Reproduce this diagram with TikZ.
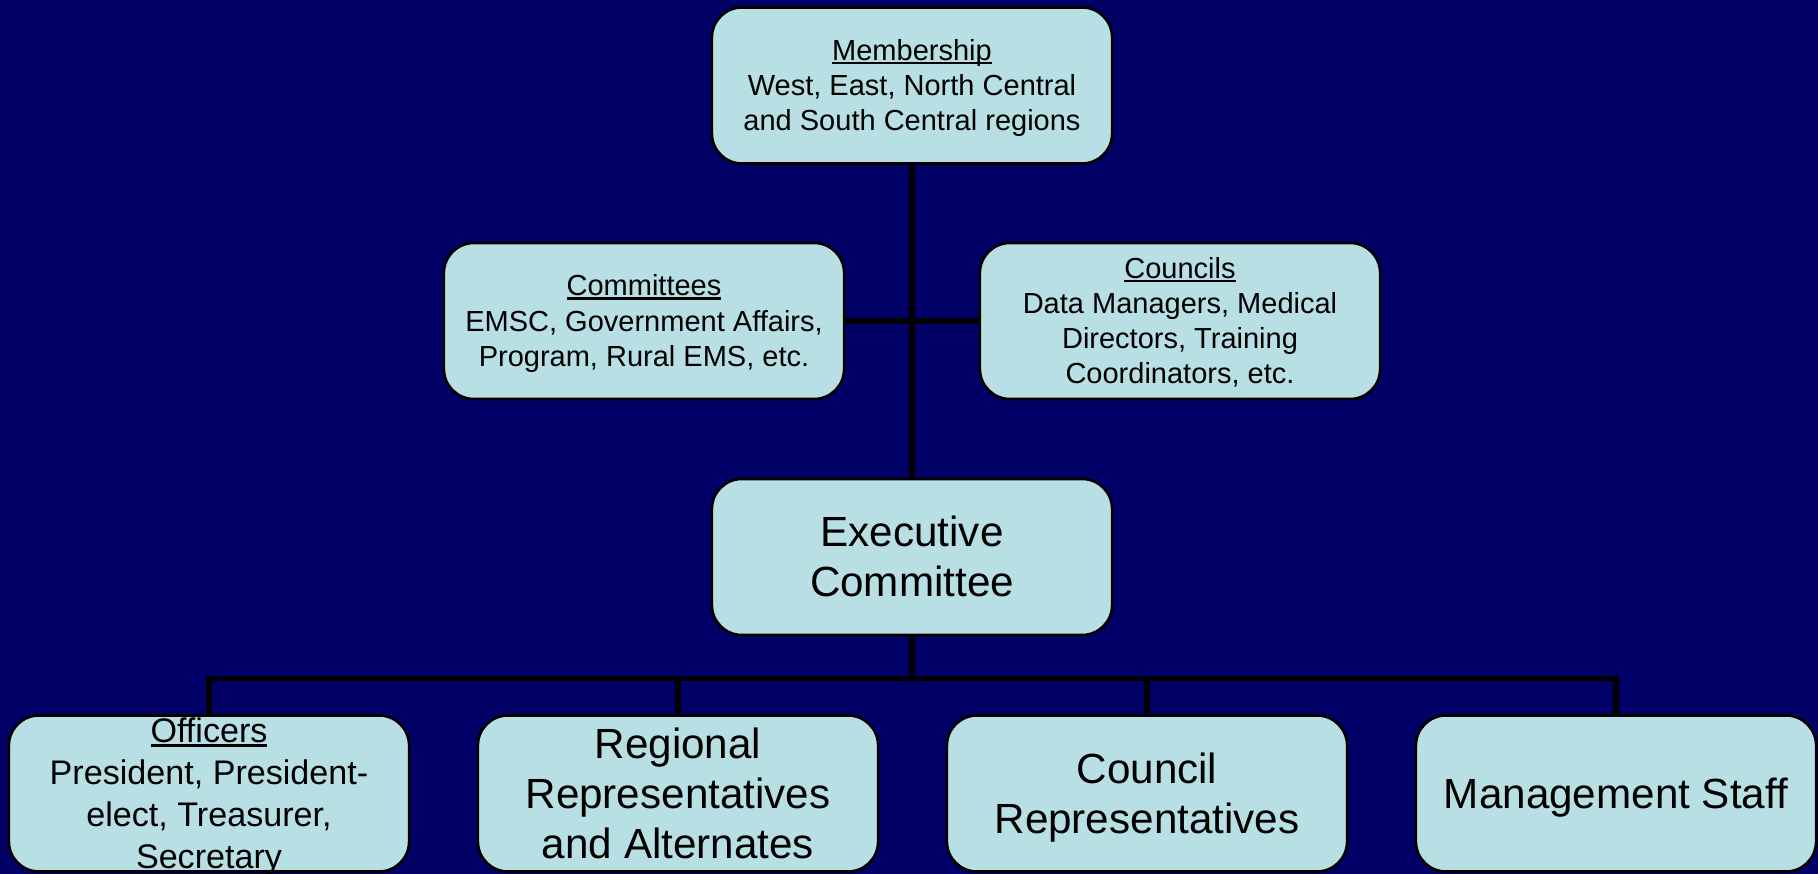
\documentclass[tikz,border=0pt]{standalone}
\usepackage{fontspec}
\setmainfont{Liberation Sans}

\definecolor{bgnavy}{RGB}{0,0,102}
\definecolor{boxcyan}{RGB}{184,224,228}

% heading with a thin underline just below the baseline
\newcommand{\headul}[1]{\setbox0\hbox{#1}\rlap{\rule[-0.13em]{\wd0}{0.08em}}\box0}
% line ascent/descent struts
\newcommand{\asc}{\rule{0pt}{0.905em}}
\newcommand{\dsc}{\rule[-0.212em]{0pt}{0pt}}

\tikzset{
  orgbox/.style={draw=black, line width=0.75pt, fill=boxcyan, rounded corners=0.3cm,
    minimum width=4cm, minimum height=1.56cm, inner xsep=2pt, inner ysep=0pt,
    align=center, text=black},
  smalltxt/.style={font=\fontsize{8.25}{10}\selectfont},
  midtxt/.style={font=\fontsize{9.7}{11.9}\selectfont, inner ysep=-2pt},
  bigtxt/.style={font=\fontsize{12}{14.2}\selectfont},
  link/.style={line width=1.6pt, draw=black}
}

\begin{document}
\begin{tikzpicture}[x=0.01cm, y=-0.01cm]
  %% background
  \fill[bgnavy] (0,0) rectangle (1818,874);
  \useasboundingbox (0,0) rectangle (1818,874);

  %% top
  \node[orgbox, smalltxt] (member) at (912,85.5)
    {\asc\headul{Membership}\\West, East, North Central\\and South Central regions\dsc};

  %% middle
  \node[orgbox, smalltxt] (comm) at (644,321)
    {\asc\headul{Committees}\\EMSC, Government Affairs,\\Program, Rural EMS, etc.\dsc};
  \node[orgbox, smalltxt] (counc) at (1180,321)
    {\asc\headul{Councils}\\Data Managers, Medical\\Directors, Training\\Coordinators, etc.\dsc};
  \node[orgbox, bigtxt] (exec) at (912,557) {\asc Executive\\Committee\dsc};

  %% bottom row
  \node[orgbox, midtxt] (officers) at (209,793.5)
    {\asc\headul{Officers}\\President, President-\\elect, Treasurer,\\Secretary\dsc};
  \node[orgbox, bigtxt] (regional) at (678,793.5)
    {\asc Regional\\Representatives\\and Alternates\dsc};
  \node[orgbox, bigtxt] (councilrep) at (1147,793.5) {\asc Council\\Representatives\dsc};
  \node[orgbox, bigtxt] (mgmt) at (1616,793.5) {\asc Management Staff\dsc};

  %% connectors
  \draw[link] (member) -- (exec);
  \draw[link] (comm) -- (counc);
  \foreach \n in {officers,regional,councilrep,mgmt}
    \draw[link] (exec.south) -- ++(0,42) -| (\n.north);

\end{tikzpicture}
\end{document}
